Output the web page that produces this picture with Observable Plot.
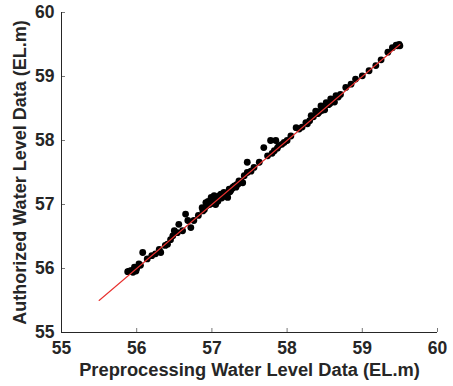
<!DOCTYPE html>
<html><head><meta charset="utf-8">
<script src="https://cdn.jsdelivr.net/npm/d3@7"></script>
<script src="https://cdn.jsdelivr.net/npm/@observablehq/plot@0.6"></script>
<style>
body{margin:0;background:#fff;}
#chart svg{display:block;}
</style>
</head><body><div id="chart"></div>
<script>
const preprocessed = [55.88,55.90,55.93,55.95,55.97,55.99,56.00,56.03,56.05,56.08,56.14,56.20,56.25,56.30,56.32,56.38,56.41,56.45,56.48,56.50,56.54,56.56,56.61,56.65,56.68,56.72,56.76,56.82,56.87,56.90,56.92,56.95,56.99,57.01,57.03,57.03,57.06,57.08,57.10,57.12,57.14,57.16,57.18,57.21,57.23,57.25,57.28,57.30,57.33,57.36,57.39,57.41,57.43,57.47,57.47,57.52,57.56,57.63,57.69,57.74,57.78,57.80,57.83,57.85,57.87,57.89,57.93,57.96,58.00,58.05,58.12,58.16,58.20,58.25,58.27,58.30,58.32,58.35,58.38,58.41,58.45,58.48,58.52,58.55,58.58,58.61,58.65,58.68,58.71,58.78,58.85,58.91,59.00,59.09,59.18,59.25,59.34,59.40,59.45,59.47,59.49,59.50,56.97,57.00,57.05,57.09,57.13,57.17,57.20,57.24,57.27,57.32,57.35,56.93,56.88,58.43,58.50,58.57,58.63,58.40,58.46];
const authorized   = [55.95,55.96,55.97,55.94,56.02,55.96,56.00,56.07,56.05,56.25,56.15,56.20,56.23,56.30,56.25,56.36,56.38,56.45,56.51,56.59,56.56,56.69,56.59,56.85,56.75,56.64,56.75,56.83,56.95,56.92,57.03,57.05,57.11,57.06,57.14,57.01,57.10,57.05,57.14,57.16,57.12,57.19,57.17,57.11,57.24,57.22,57.27,57.29,57.31,57.37,57.36,57.34,57.45,57.50,57.66,57.52,57.58,57.66,57.89,57.76,58.00,57.80,57.84,58.00,57.88,57.92,57.94,57.97,58.00,58.07,58.20,58.18,58.21,58.28,58.26,58.31,58.39,58.37,58.46,58.42,58.54,58.50,58.59,58.56,58.65,58.62,58.70,58.68,58.72,58.83,58.88,58.96,59.01,59.09,59.17,59.26,59.38,59.45,59.49,59.48,59.50,59.48,57.00,57.04,57.00,57.12,57.10,57.14,57.15,57.20,57.25,57.27,57.32,56.98,56.90,58.45,58.48,58.58,58.60,58.42,58.47];
const fitLine = [55.5, 59.5];
const ticks = [55, 56, 57, 58, 59, 60];
const xLabel = "Preprocessing Water Level Data (EL.m)";
const yLabel = "Authorized Water Level Data (EL.m)";

const points = preprocessed.map((x, i) => ({x, y: authorized[i]}));
const ink = "#262626";
const W = 453, H = 386, mL = 61, mR = 16, mT = 12, mB = 54;
const tickLen = 4;

const chart = Plot.plot({
  width: W,
  height: H,
  marginLeft: mL,
  marginRight: mR,
  marginTop: mT,
  marginBottom: mB,
  style: {fontFamily: "'Liberation Sans', Arial, sans-serif", background: "#fff", color: ink},
  x: {domain: [55, 60]},
  y: {domain: [55, 60]},
  marks: [
    Plot.axisX(ticks, {tickSize: 0, tickPadding: 9, fontSize: 17.5, fontWeight: "bold", fill: ink, tickFormat: "d", label: null}),
    Plot.axisY(ticks, {tickSize: 0, tickPadding: 7, fontSize: 17.5, fontWeight: "bold", fill: ink, tickFormat: "d", label: null}),
    Plot.tickX(ticks, {x: d => d, insetTop: (H - mT - mB) - tickLen, stroke: "#555", strokeWidth: 0.8}),
    Plot.tickY(ticks, {y: d => d, insetRight: (W - mL - mR) - tickLen, stroke: "#555", strokeWidth: 0.8}),
    Plot.ruleY([55], {stroke: ink}),
    Plot.ruleX([55], {stroke: ink}),
    Plot.dot(points, {x: "x", y: "y", r: 3.4, fill: "black", stroke: "none"}),
    Plot.line(fitLine.map(v => ({x: v, y: v})), {x: "x", y: "y", stroke: "#e8302e", strokeWidth: 1.1}),
    Plot.text([xLabel], {frameAnchor: "bottom", dy: 38, lineAnchor: "middle", textAnchor: "middle", fontSize: 18.3, fontWeight: "bold", fill: ink}),
    Plot.text([yLabel], {frameAnchor: "left", dx: -41, rotate: -90, lineAnchor: "middle", textAnchor: "middle", fontSize: 18, fontWeight: "bold", fill: ink})
  ]
});
document.getElementById("chart").appendChild(chart);
</script>
</body></html>
